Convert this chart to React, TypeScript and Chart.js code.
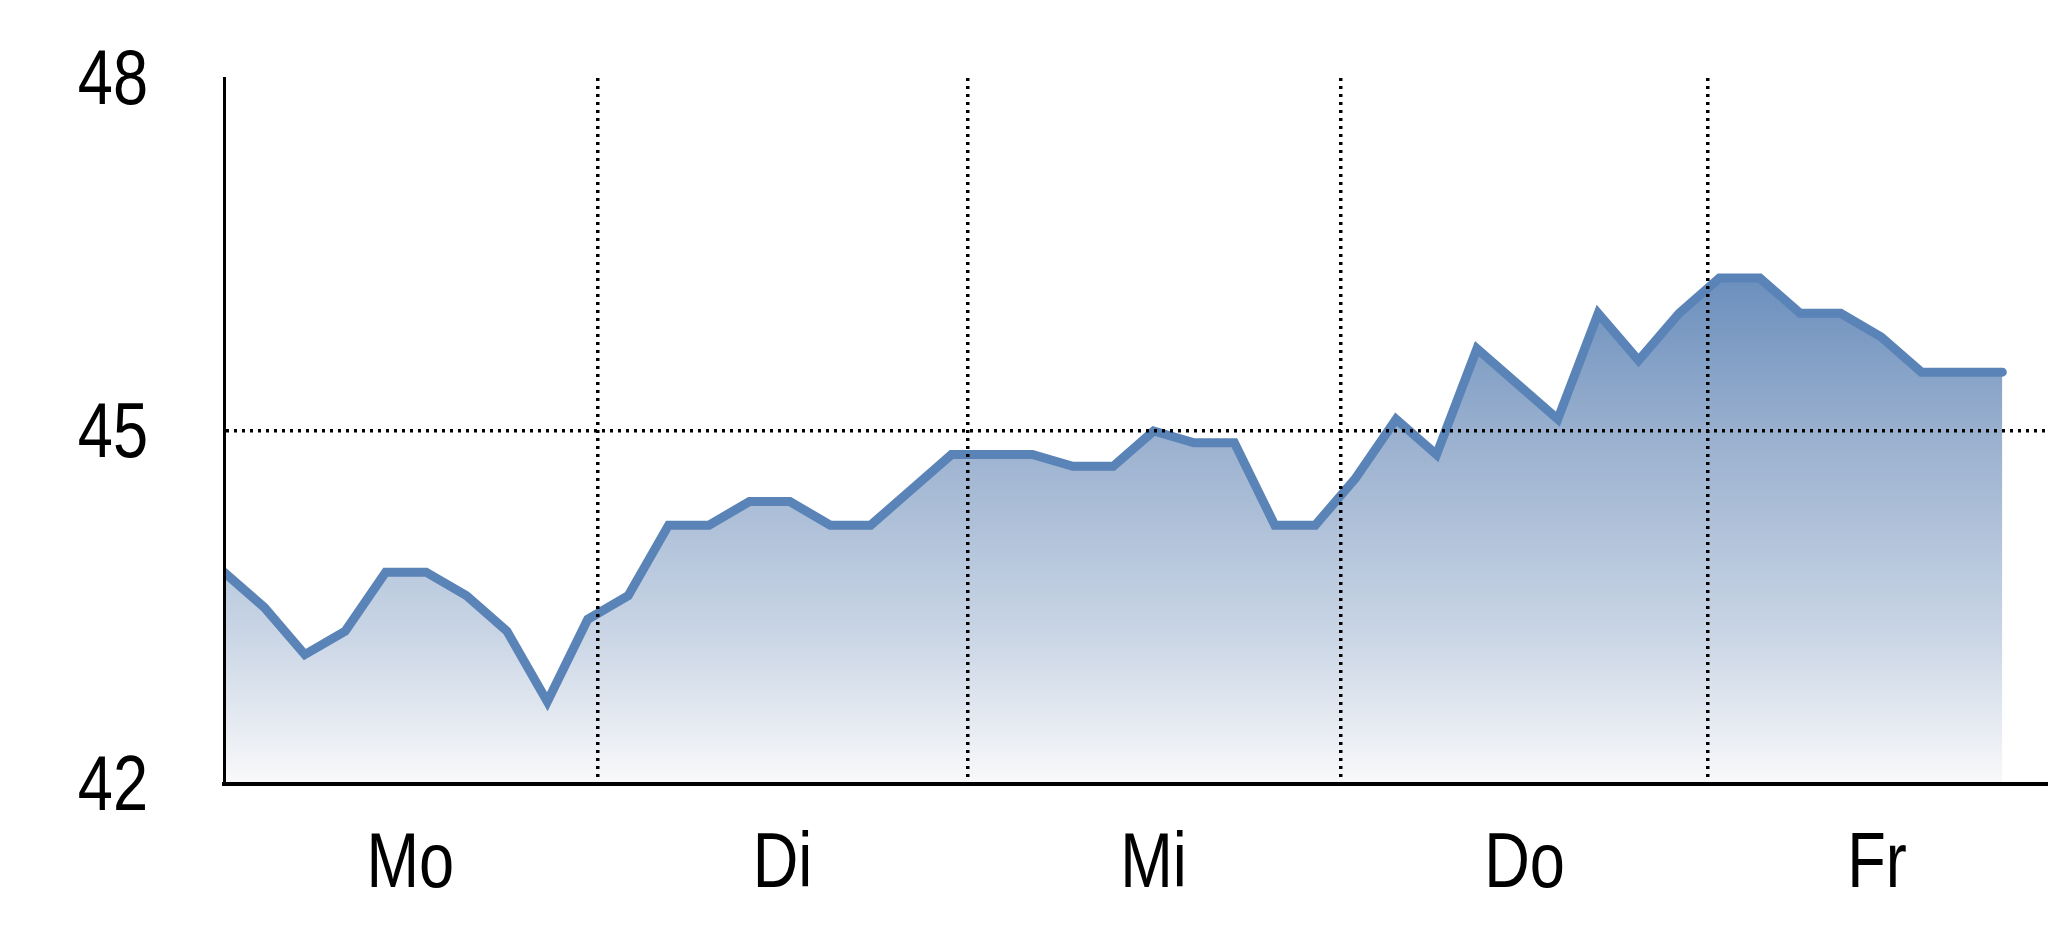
import React, { useEffect, useRef } from "react";
import { Chart, registerables } from "chart.js";

Chart.register(...registerables);

// Series values (one sample per step)
const values: number[] = [
  43.8, 43.5, 43.1, 43.3, 43.8, 43.8, 43.6, 43.3, 42.7,
  43.4, 43.6, 44.2, 44.2, 44.4, 44.4, 44.2, 44.2, 44.5, 44.8,
  44.8, 44.8, 44.7, 44.7, 45.0, 44.9, 44.9, 44.2, 44.2,
  44.6, 45.1, 44.8, 45.7, 45.4, 45.1, 46.0, 45.6, 46.0,
  46.3, 46.3, 46.0, 46.0, 45.8, 45.5, 45.5, 45.5,
];

// Day categories and where they sit on the sample axis
const dayLabels: string[] = ["Mo", "Di", "Mi", "Do", "Fr"];
const dayLabelPos: number[] = [4.61, 13.82, 23.0, 32.18, 40.9];
const dayBoundaries: number[] = [9.24, 18.41, 27.63, 36.71];
const xMax = 45.13;

// Y ticks
const yTicks: number[] = [42, 45, 48];
const yTickLabels: string[] = ["42", "45", "48"];
const yGridValues: number[] = [45];

const LABEL_FONT = "77px 'Liberation Sans', Arial, sans-serif";
const NARROW = 0.82;

// Draws the tick labels in a narrow (Arial-Narrow-like) form at the scales' own positions
const narrowLabels = {
  id: "narrowLabels",
  afterDraw(chart: any) {
    const { ctx, chartArea, scales } = chart;
    const xs = scales.x;
    const ys = scales.y;
    ctx.save();
    ctx.fillStyle = "#000";
    ctx.font = LABEL_FONT;
    ctx.textBaseline = "alphabetic";

    ctx.textAlign = "right";
    yTicks.forEach((v, i) => {
      const py = ys.getPixelForValue(v);
      ctx.save();
      ctx.translate(chartArea.left - 76, py + 25.5);
      ctx.scale(NARROW, 1);
      ctx.fillText(yTickLabels[i], 0, 0);
      ctx.restore();
    });

    ctx.textAlign = "center";
    dayLabelPos.forEach((v, i) => {
      const px = xs.getPixelForValue(v);
      ctx.save();
      ctx.translate(px, chartArea.bottom + 103);
      ctx.scale(NARROW, 1);
      ctx.fillText(dayLabels[i], 0, 0);
      ctx.restore();
    });
    ctx.restore();
  },
};

export default function App() {
  const ref = useRef<HTMLCanvasElement | null>(null);

  useEffect(() => {
    if (!ref.current) return;
    const data = values.map((v, i) => ({ x: i, y: v }));

    const chart = new Chart(ref.current, {
      type: "line",
      data: {
        datasets: [
          {
            data,
            borderColor: "#5a83b7",
            borderWidth: 9,
            borderCapStyle: "round",
            borderJoinStyle: "miter",
            pointRadius: 0,
            tension: 0,
            fill: "start",
            backgroundColor: (ctx: any) => {
              const { chart } = ctx;
              const area = chart.chartArea;
              if (!area) return "rgba(90,131,183,0.5)";
              const top = chart.scales.y.getPixelForValue(Math.max(...values));
              const g = chart.ctx.createLinearGradient(0, top, 0, area.bottom);
              g.addColorStop(0, "#6b8fbd");
              g.addColorStop(0.3, "#98afce");
              g.addColorStop(0.7, "#c9d5e5");
              g.addColorStop(1, "#f9f9fa");
              return g;
            },
          },
        ],
      },
      options: {
        responsive: false,
        animation: false,
        layout: { padding: { top: 78, right: 0, bottom: 0, left: 0 } },
        plugins: { legend: { display: false }, tooltip: { enabled: false } },
        scales: {
          x: {
            type: "linear",
            min: 0,
            max: xMax,
            afterBuildTicks: (axis: any) => {
              axis.ticks = dayBoundaries.map((v) => ({ value: v }));
            },
            afterFit: (s: any) => {
              s.height = 153;
            },
            ticks: { display: false },
            grid: {
              z: 1,
              drawTicks: false,
              lineWidth: 3.5,
              color: "#000",
            },
            border: { display: true, z: 2, color: "#000", width: 4, dash: [3, 5] },
          },
          y: {
            type: "linear",
            min: 42,
            max: 48,
            afterBuildTicks: (axis: any) => {
              axis.ticks = yTicks.map((v) => ({ value: v }));
            },
            afterFit: (s: any) => {
              s.width = 224;
            },
            ticks: { display: false },
            grid: {
              z: 1,
              drawTicks: false,
              lineWidth: 3.5,
              color: (ctx: any) =>
                ctx.tick && yGridValues.includes(ctx.tick.value) ? "#000" : "rgba(0,0,0,0)",
            },
            border: { display: true, z: 2, color: "#000", width: 3, dash: [3, 5] },
          },
        },
      },
      plugins: [narrowLabels],
    } as any);

    return () => chart.destroy();
  }, []);

  return (
    <div style={{ position: "fixed", left: 0, top: 0, width: 2048, height: 937, background: "#fff" }}>
      <canvas ref={ref} width={2048} height={937} style={{ display: "block" }} />
    </div>
  );
}
